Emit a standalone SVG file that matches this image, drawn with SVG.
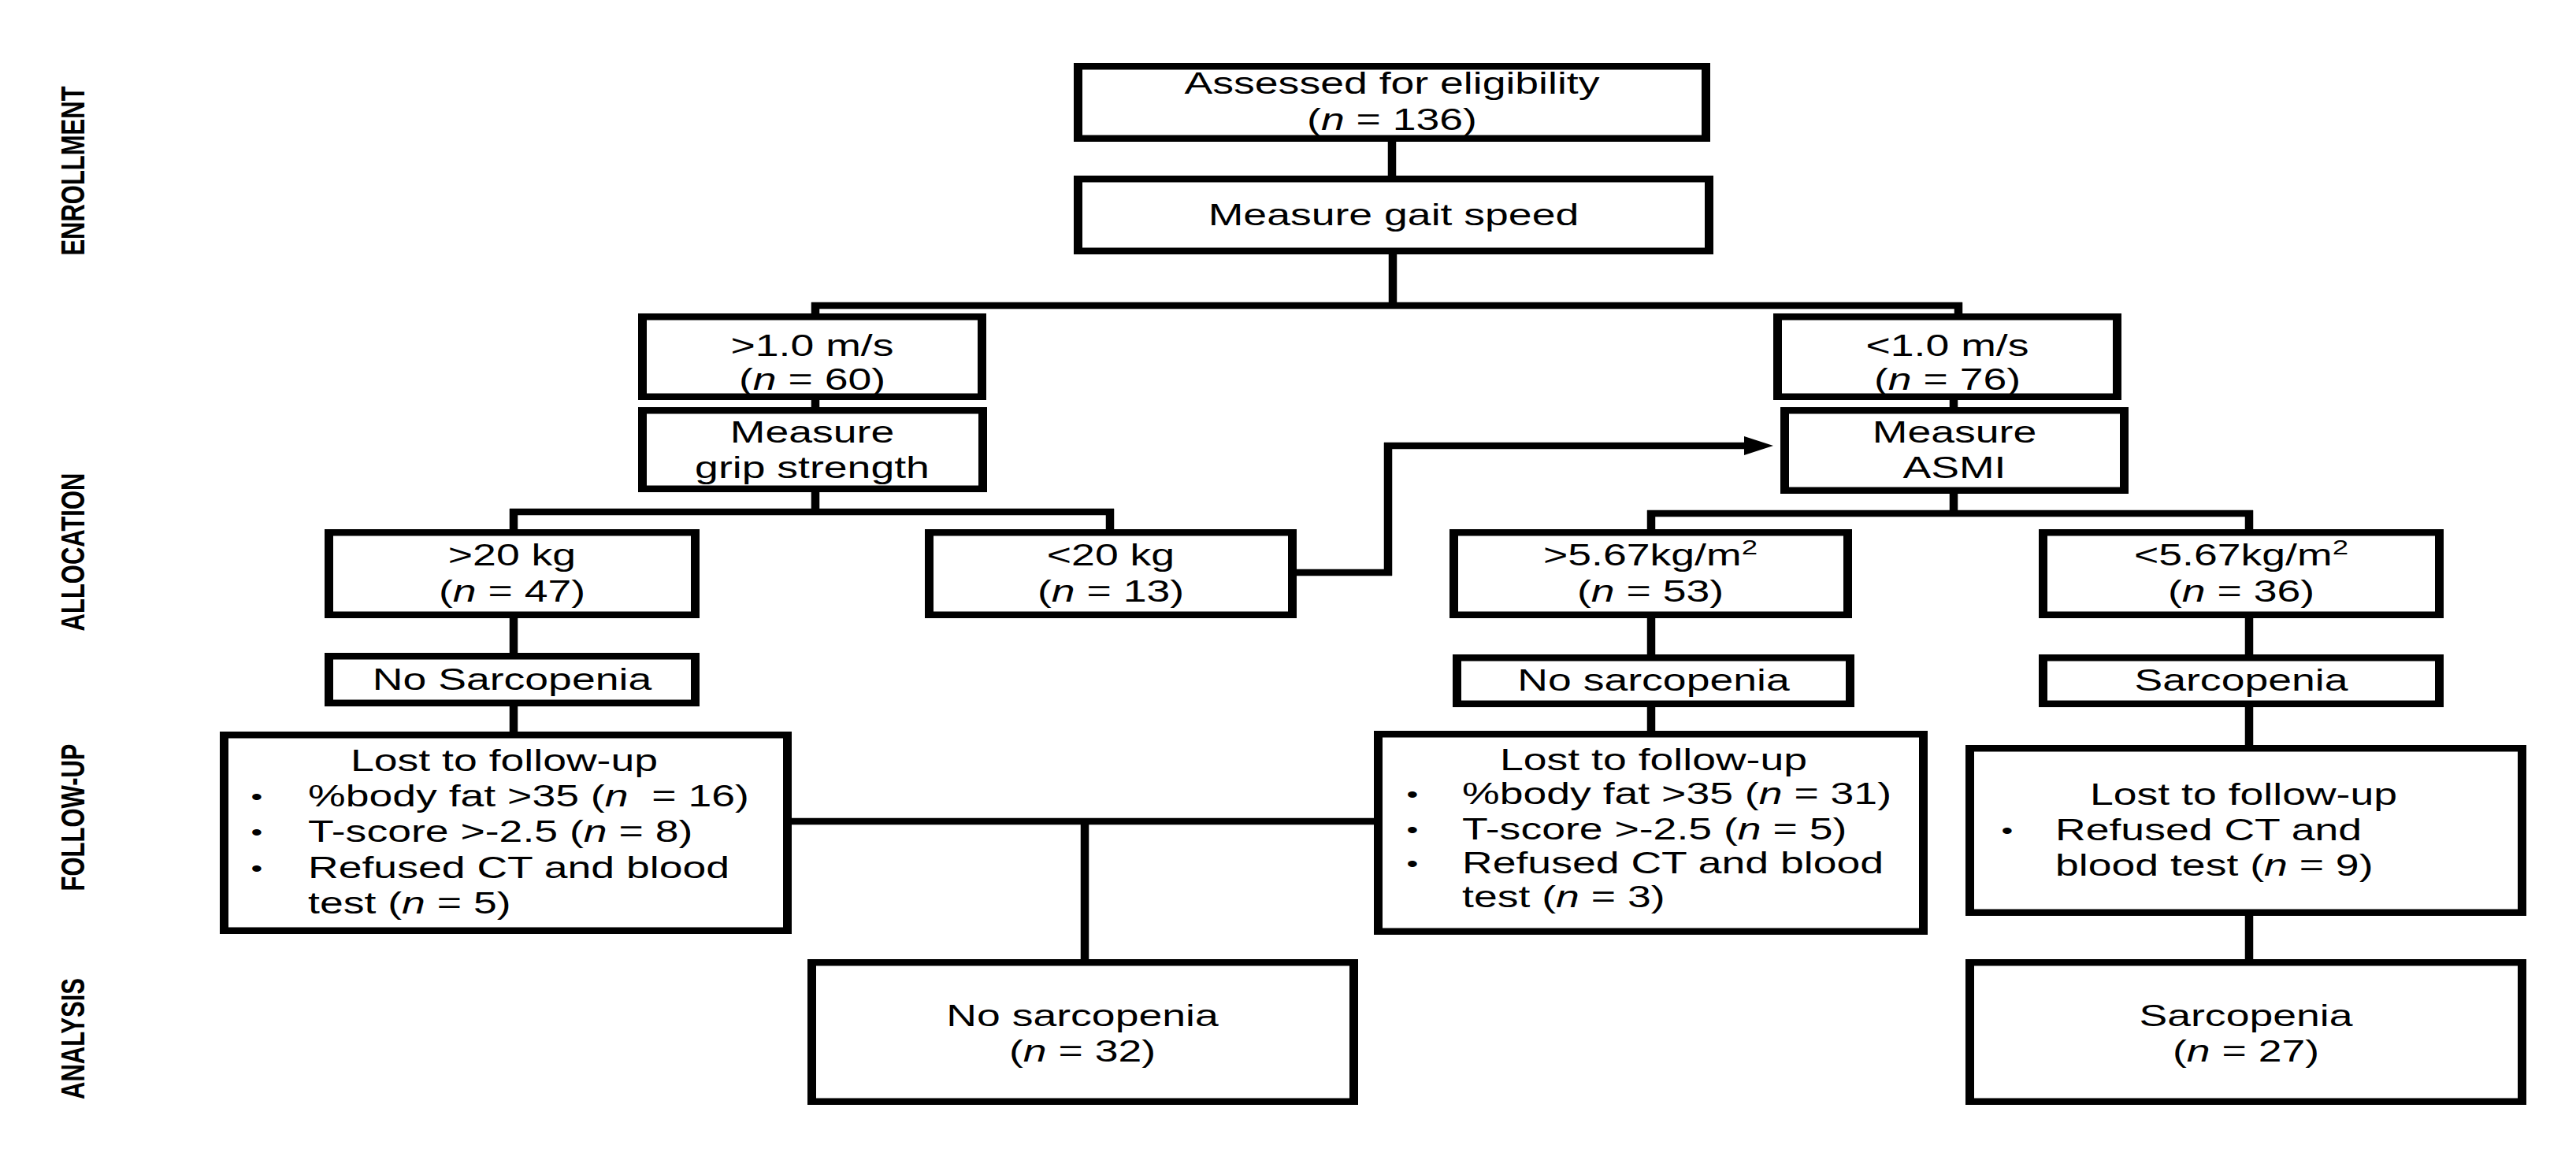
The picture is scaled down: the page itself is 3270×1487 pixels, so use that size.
<svg xmlns="http://www.w3.org/2000/svg" width="3270" height="1487" viewBox="0 0 3270 1487">
<style>
.bo{fill:#000}
.bi{fill:#fff}
.v{fill:none;stroke:#000;stroke-width:10.5}
.h{fill:none;stroke:#000;stroke-width:8.5}
.t{font-family:"Liberation Sans",Arial,sans-serif;font-size:38px;fill:#000;text-anchor:middle}
.tl{font-family:"Liberation Sans",Arial,sans-serif;font-size:38px;fill:#000;text-anchor:start}
.bu{font-family:"Liberation Sans",Arial,sans-serif;font-size:30px;fill:#000;text-anchor:middle}
.side{font-family:"Liberation Sans",Arial,sans-serif;font-weight:bold;font-size:31px;fill:#000;text-anchor:middle}
.i{font-style:italic}
.sup{font-size:26px}
</style>
<defs>
<marker id="arr" viewBox="0 0 37 24" refX="8" refY="12" markerWidth="37" markerHeight="24" markerUnits="userSpaceOnUse" orient="auto">
<path d="M0,0 L37,12 L0,24 z" fill="#000"/>
</marker>
</defs>
<rect width="3270" height="1487" fill="#fff"/>

<g id="phase-labels">
<text class="side" transform="translate(107 217) rotate(-90) scale(1 1.4)">ENROLLMENT</text>
<text class="side" transform="translate(107 701) rotate(-90) scale(1 1.4)">ALLOCATION</text>
<text class="side" transform="translate(107 1038) rotate(-90) scale(1 1.4)">FOLLOW-UP</text>
<text class="side" transform="translate(107 1319) rotate(-90) scale(1 1.4)">ANALYSIS</text>
</g>

<g id="connectors">
<line class="v" x1="1767" y1="176" x2="1767" y2="227"/>
<line class="v" x1="1768" y1="319" x2="1768" y2="392"/>
<line class="h" x1="1030" y1="388" x2="2491" y2="388"/>
<line class="v" x1="1035" y1="384" x2="1035" y2="402"/>
<line class="v" x1="2486" y1="384" x2="2486" y2="402"/>
<line class="v" x1="1035" y1="504" x2="1035" y2="521"/>
<line class="v" x1="1035" y1="621" x2="1035" y2="654"/>
<line class="h" x1="647" y1="650" x2="1414" y2="650"/>
<line class="v" x1="652" y1="646" x2="652" y2="676"/>
<line class="v" x1="1409" y1="646" x2="1409" y2="676"/>
<line class="h" x1="1642" y1="727" x2="1767" y2="727"/>
<line class="v" x1="1762" y1="562" x2="1762" y2="731"/>
<line class="h" x1="1757" y1="566" x2="2222" y2="566" marker-end="url(#arr)"/>
<line class="v" x1="2480" y1="504" x2="2480" y2="521"/>
<line class="v" x1="2480" y1="623" x2="2480" y2="656"/>
<line class="h" x1="2091" y1="652" x2="2860" y2="652"/>
<line class="v" x1="2096" y1="648" x2="2096" y2="676"/>
<line class="v" x1="2855" y1="648" x2="2855" y2="676"/>
<line class="v" x1="652" y1="781" x2="652" y2="833"/>
<line class="v" x1="652" y1="893" x2="652" y2="933"/>
<line class="v" x1="2096" y1="781" x2="2096" y2="835"/>
<line class="v" x1="2096" y1="894" x2="2096" y2="932"/>
<line class="v" x1="2855" y1="781" x2="2855" y2="835"/>
<line class="v" x1="2855" y1="894" x2="2855" y2="950"/>
<line class="v" x1="2855" y1="1159" x2="2855" y2="1222"/>
<line class="h" x1="1001" y1="1043" x2="1748" y2="1043"/>
<line class="v" x1="1377" y1="1039" x2="1377" y2="1222"/>
</g>

<g id="n-assessed">
<rect class="bo" x="1363" y="80" width="808" height="100"/><rect class="bi" x="1374" y="88.5" width="786" height="83"/>
<text class="t" transform="translate(1767 0) scale(1.41 1)"><tspan x="0" y="119">Assessed for eligibility</tspan><tspan x="0" y="165">(<tspan class="i">n</tspan> = 136)</tspan></text>
</g>

<g id="n-gait">
<rect class="bo" x="1363" y="223" width="812" height="100"/><rect class="bi" x="1374" y="231.5" width="790" height="83"/>
<text class="t" transform="translate(1769 0) scale(1.41 1)"><tspan x="0" y="286">Measure gait speed</tspan></text>
</g>

<g id="n-fast">
<rect class="bo" x="810" y="398" width="442" height="110"/><rect class="bi" x="821" y="406.5" width="420" height="93"/>
<text class="t" transform="translate(1031 0) scale(1.41 1)"><tspan x="0" y="452">&gt;1.0 m/s</tspan><tspan x="0" y="495">(<tspan class="i">n</tspan> = 60)</tspan></text>
</g>

<g id="n-slow">
<rect class="bo" x="2251" y="398" width="442" height="110"/><rect class="bi" x="2262" y="406.5" width="420" height="93"/>
<text class="t" transform="translate(2472 0) scale(1.41 1)"><tspan x="0" y="452">&lt;1.0 m/s</tspan><tspan x="0" y="495">(<tspan class="i">n</tspan> = 76)</tspan></text>
</g>

<g id="n-grip">
<rect class="bo" x="810" y="517" width="443" height="108"/><rect class="bi" x="821" y="525.5" width="421" height="91"/>
<text class="t" transform="translate(1031 0) scale(1.41 1)"><tspan x="0" y="562">Measure</tspan><tspan x="0" y="607">grip strength</tspan></text>
</g>

<g id="n-asmi">
<rect class="bo" x="2260" y="517" width="442" height="110"/><rect class="bi" x="2271" y="525.5" width="420" height="93"/>
<text class="t" transform="translate(2481 0) scale(1.41 1)"><tspan x="0" y="562">Measure</tspan><tspan x="0" y="607">ASMI</tspan></text>
</g>

<g id="n-grip-high">
<rect class="bo" x="412" y="672" width="476" height="113"/><rect class="bi" x="423" y="680.5" width="454" height="96"/>
<text class="t" transform="translate(650 0) scale(1.41 1)"><tspan x="0" y="718">&gt;20 kg</tspan><tspan x="0" y="764">(<tspan class="i">n</tspan> = 47)</tspan></text>
</g>

<g id="n-grip-low">
<rect class="bo" x="1174" y="672" width="472" height="113"/><rect class="bi" x="1185" y="680.5" width="450" height="96"/>
<text class="t" transform="translate(1410 0) scale(1.41 1)"><tspan x="0" y="718">&lt;20 kg</tspan><tspan x="0" y="764">(<tspan class="i">n</tspan> = 13)</tspan></text>
</g>

<g id="n-asmi-high">
<rect class="bo" x="1840" y="672" width="511" height="113"/><rect class="bi" x="1851" y="680.5" width="489" height="96"/>
<text class="t" transform="translate(2095 0) scale(1.41 1)"><tspan x="0" y="718">&gt;5.67kg/m<tspan class="sup" dy="-14">2</tspan></tspan><tspan x="0" y="764">(<tspan class="i">n</tspan> = 53)</tspan></text>
</g>

<g id="n-asmi-low">
<rect class="bo" x="2588" y="672" width="514" height="113"/><rect class="bi" x="2599" y="680.5" width="492" height="96"/>
<text class="t" transform="translate(2845 0) scale(1.41 1)"><tspan x="0" y="718">&lt;5.67kg/m<tspan class="sup" dy="-14">2</tspan></tspan><tspan x="0" y="764">(<tspan class="i">n</tspan> = 36)</tspan></text>
</g>

<g id="n-nosarc-left">
<rect class="bo" x="412" y="829" width="476" height="68"/><rect class="bi" x="423" y="837.5" width="454" height="51"/>
<text class="t" transform="translate(650 0) scale(1.41 1)"><tspan x="0" y="876">No Sarcopenia</tspan></text>
</g>

<g id="n-nosarc-mid">
<rect class="bo" x="1844" y="831" width="510" height="67"/><rect class="bi" x="1855" y="839.5" width="488" height="50"/>
<text class="t" transform="translate(2099 0) scale(1.41 1)"><tspan x="0" y="877">No sarcopenia</tspan></text>
</g>

<g id="n-sarc-right">
<rect class="bo" x="2588" y="831" width="514" height="67"/><rect class="bi" x="2599" y="839.5" width="492" height="50"/>
<text class="t" transform="translate(2845 0) scale(1.41 1)"><tspan x="0" y="877">Sarcopenia</tspan></text>
</g>

<g id="n-lost-left">
<rect class="bo" x="279" y="929" width="726" height="257"/><rect class="bi" x="290" y="937.5" width="704" height="240"/>
<text class="t" transform="translate(640 0) scale(1.41 1)"><tspan x="0" y="979">Lost to follow-up</tspan></text>
<text class="bu" transform="translate(326 0) scale(1.41 1)"><tspan x="0" y="1022">•</tspan><tspan x="0" y="1067">•</tspan><tspan x="0" y="1113">•</tspan></text>
<text class="tl" transform="translate(391 0) scale(1.41 1)"><tspan x="0" y="1024">%body fat &gt;35 (<tspan class="i">n</tspan>&#160; = 16)</tspan><tspan x="0" y="1069">T-score &gt;-2.5 (<tspan class="i">n</tspan> = 8)</tspan><tspan x="0" y="1115">Refused CT and blood</tspan><tspan x="0" y="1160">test (<tspan class="i">n</tspan> = 5)</tspan></text>
</g>

<g id="n-lost-mid">
<rect class="bo" x="1744" y="928" width="703" height="259"/><rect class="bi" x="1755" y="936.5" width="681" height="242"/>
<text class="t" transform="translate(2099 0) scale(1.41 1)"><tspan x="0" y="978">Lost to follow-up</tspan></text>
<text class="bu" transform="translate(1793 0) scale(1.41 1)"><tspan x="0" y="1019">•</tspan><tspan x="0" y="1064">•</tspan><tspan x="0" y="1107">•</tspan></text>
<text class="tl" transform="translate(1856 0) scale(1.41 1)"><tspan x="0" y="1021">%body fat &gt;35 (<tspan class="i">n</tspan> = 31)</tspan><tspan x="0" y="1066">T-score &gt;-2.5 (<tspan class="i">n</tspan> = 5)</tspan><tspan x="0" y="1109">Refused CT and blood</tspan><tspan x="0" y="1152">test (<tspan class="i">n</tspan> = 3)</tspan></text>
</g>

<g id="n-lost-right">
<rect class="bo" x="2495" y="946" width="712" height="217"/><rect class="bi" x="2506" y="954.5" width="690" height="200"/>
<text class="t" transform="translate(2848 0) scale(1.41 1)"><tspan x="0" y="1022">Lost to follow-up</tspan></text>
<text class="bu" transform="translate(2548 0) scale(1.41 1)"><tspan x="0" y="1065">•</tspan></text>
<text class="tl" transform="translate(2609 0) scale(1.41 1)"><tspan x="0" y="1067">Refused CT and</tspan><tspan x="0" y="1112">blood test (<tspan class="i">n</tspan> = 9)</tspan></text>
</g>

<g id="n-analysis-nosarc">
<rect class="bo" x="1025" y="1218" width="699" height="185"/><rect class="bi" x="1036" y="1226.5" width="677" height="168"/>
<text class="t" transform="translate(1374 0) scale(1.41 1)"><tspan x="0" y="1303">No sarcopenia</tspan><tspan x="0" y="1348">(<tspan class="i">n</tspan> = 32)</tspan></text>
</g>

<g id="n-analysis-sarc">
<rect class="bo" x="2495" y="1218" width="712" height="185"/><rect class="bi" x="2506" y="1226.5" width="690" height="168"/>
<text class="t" transform="translate(2851 0) scale(1.41 1)"><tspan x="0" y="1303">Sarcopenia</tspan><tspan x="0" y="1348">(<tspan class="i">n</tspan> = 27)</tspan></text>
</g>
</svg>
